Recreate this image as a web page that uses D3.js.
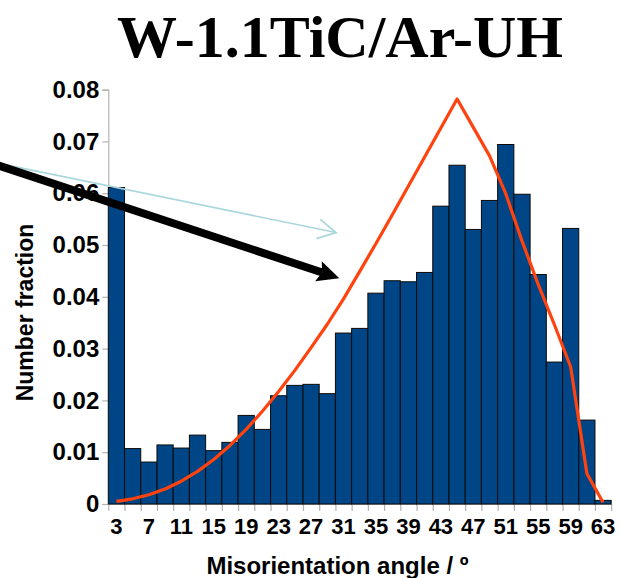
<!DOCTYPE html>
<html>
<head>
<meta charset="utf-8">
<script src="https://cdn.jsdelivr.net/npm/d3@7"></script>
<style>
  html, body { margin: 0; padding: 0; background: #fff; }
  svg { display: block; }
</style>
</head>
<body>
<svg id="chart" width="622" height="578"></svg>
<script>
// Misorientation angle bins (bin centres, degrees)
const angles = [3, 5, 7, 9, 11, 13, 15, 17, 19, 21, 23, 25, 27, 29, 31, 33,
                35, 37, 39, 41, 43, 45, 47, 49, 51, 53, 55, 57, 59, 61, 63];

// Measured number fraction per bin
const measured = [0.0611, 0.0107, 0.0081, 0.0114, 0.0108, 0.0133, 0.0103, 0.0119,
                  0.0171, 0.0144, 0.0209, 0.0229, 0.0231, 0.0213, 0.0330, 0.0339,
                  0.0407, 0.0431, 0.0429, 0.0447, 0.0575, 0.0654, 0.0530, 0.0586,
                  0.0694, 0.0598, 0.0443, 0.0274, 0.0532, 0.0162, 0.0007];

// Random-texture (Mackenzie) reference distribution per bin
const randomRef = [0.0005, 0.0010, 0.0018, 0.0029, 0.0044, 0.0063, 0.0086, 0.0113,
                   0.0144, 0.0179, 0.0217, 0.0258, 0.0302, 0.0347, 0.0396, 0.0449,
                   0.0503, 0.0558, 0.0614, 0.0670, 0.0726, 0.0782, 0.0727, 0.0672,
                   0.0599, 0.0508, 0.0424, 0.0346, 0.0265, 0.0059, 0.0003];

const xTickLabels = [3, 7, 11, 15, 19, 23, 27, 31, 35, 39, 43, 47, 51, 55, 59, 63];
const yTicks = [0, 0.01, 0.02, 0.03, 0.04, 0.05, 0.06, 0.07, 0.08];

const titleText = "W-1.1TiC/Ar-UH";
const xTitle = "Misorientation angle / º";
const yTitle = "Number fraction";

// Annotation arrows, in data coordinates (angle, fraction)
const cyanArrow = { from: [-12.6, 0.0661], to: [30.07, 0.0524] };
const blackArrow = { from: [-12.6, 0.0659], to: [30.48, 0.0436] };

const svg = d3.select("#chart");
const plot = { left: 108.3, right: 611.2, top: 89.6, bottom: 504 };

const x = d3.scaleBand().domain(angles).range([plot.left, plot.right]).padding(0);
const xEdge = d3.scaleLinear().domain([2, 64]).range([plot.left, plot.right]);
const y = d3.scaleLinear().domain([0, 0.08]).range([plot.bottom, plot.top]);

const axisGrey = "#b3b3b3";
const sans = "'Liberation Sans', Arial, sans-serif";

// Title
svg.append("text")
  .attr("x", 340).attr("y", 57)
  .attr("text-anchor", "middle")
  .style("font-family", "'Liberation Serif', 'Times New Roman', serif")
  .style("font-weight", "bold")
  .style("font-size", "60px")
  .text(titleText);

// Y axis
const yAxis = svg.append("g")
  .attr("transform", `translate(${plot.left},0)`)
  .call(d3.axisLeft(y).tickValues(yTicks).tickSize(6).tickPadding(3)
    .tickFormat(d => d === 0 ? "0" : d3.format(".2f")(d)));
yAxis.select(".domain").attr("stroke", axisGrey).attr("stroke-width", 1.2);
yAxis.selectAll(".tick line").attr("stroke", axisGrey).attr("stroke-width", 1.2);
yAxis.selectAll(".tick text")
  .attr("fill", "#000")
  .style("font-family", sans).style("font-weight", "bold").style("font-size", "24px");

// X axis: tick marks on bin edges
const xEdges = d3.range(2, 65, 2);
const xAxisTicks = svg.append("g")
  .attr("transform", `translate(0,${plot.bottom})`)
  .call(d3.axisBottom(xEdge).tickValues(xEdges).tickSize(7).tickSizeOuter(0).tickFormat(""));
xAxisTicks.select(".domain").attr("stroke", axisGrey).attr("stroke-width", 1.2);
xAxisTicks.selectAll(".tick line").attr("stroke", axisGrey).attr("stroke-width", 1.2);

// X axis: labels on bin centres
const xAxisLabels = svg.append("g")
  .attr("transform", `translate(0,${plot.bottom})`)
  .call(d3.axisBottom(x).tickValues(xTickLabels).tickSize(0).tickPadding(14));
xAxisLabels.select(".domain").remove();
xAxisLabels.selectAll(".tick text")
  .attr("fill", "#000")
  .style("font-family", sans).style("font-weight", "bold").style("font-size", "22px");

// Axis titles
svg.append("text")
  .attr("x", 337.5).attr("y", 574)
  .attr("text-anchor", "middle")
  .style("font-family", sans).style("font-weight", "bold").style("font-size", "24px")
  .text(xTitle);

svg.append("text")
  .attr("transform", "translate(33,312.5) rotate(-90)")
  .attr("text-anchor", "middle")
  .style("font-family", sans).style("font-weight", "bold").style("font-size", "23px")
  .text(yTitle);

// Bars
const rows = angles.map((a, i) => ({ a, v: measured[i], r: randomRef[i] }));
svg.append("g").selectAll("rect")
  .data(rows)
  .join("rect")
  .attr("x", d => x(d.a))
  .attr("width", x.bandwidth())
  .attr("y", d => y(d.v))
  .attr("height", d => y(0) - y(d.v))
  .attr("fill", "#004586")
  .attr("stroke", "#0a0a0a")
  .attr("stroke-width", 1);

// Random distribution curve
const line = d3.line()
  .x(d => x(d.a) + x.bandwidth() / 2)
  .y(d => y(d.r));
svg.append("path")
  .datum(rows)
  .attr("d", line)
  .attr("fill", "none")
  .attr("stroke", "#ff420e")
  .attr("stroke-width", 3.2)
  .attr("stroke-linejoin", "round");

// Arrows
function arrowGeom(arrow) {
  const p0 = [xEdge(arrow.from[0]), y(arrow.from[1])];
  const p1 = [xEdge(arrow.to[0]), y(arrow.to[1])];
  const dx = p1[0] - p0[0], dy = p1[1] - p0[1];
  const len = Math.hypot(dx, dy);
  const u = [dx / len, dy / len];
  const n = [-u[1], u[0]];
  return { p0, p1, u, n };
}

// thin light-blue arrow with open head
{
  const g = arrowGeom(cyanArrow);
  const L = 18, W = 9.8;
  const col = "#a9d7dc";
  svg.append("line")
    .attr("x1", g.p0[0]).attr("y1", g.p0[1])
    .attr("x2", g.p1[0]).attr("y2", g.p1[1])
    .attr("stroke", col).attr("stroke-width", 1.6);
  const a1 = [g.p1[0] - L * g.u[0] + W * g.n[0], g.p1[1] - L * g.u[1] + W * g.n[1]];
  const a2 = [g.p1[0] - L * g.u[0] - W * g.n[0], g.p1[1] - L * g.u[1] - W * g.n[1]];
  svg.append("path")
    .attr("d", `M${a1}L${g.p1}L${a2}`)
    .attr("fill", "none").attr("stroke", col).attr("stroke-width", 1.8)
    .attr("stroke-linejoin", "miter");
}

// thick black arrow with filled head
{
  const g = arrowGeom(blackArrow);
  const L = 22, W = 10.6, notch = 18;
  const back = [g.p1[0] - notch * g.u[0], g.p1[1] - notch * g.u[1]];
  svg.append("line")
    .attr("x1", g.p0[0]).attr("y1", g.p0[1])
    .attr("x2", back[0]).attr("y2", back[1])
    .attr("stroke", "#000").attr("stroke-width", 8);
  const a1 = [g.p1[0] - L * g.u[0] + W * g.n[0], g.p1[1] - L * g.u[1] + W * g.n[1]];
  const a2 = [g.p1[0] - L * g.u[0] - W * g.n[0], g.p1[1] - L * g.u[1] - W * g.n[1]];
  svg.append("path")
    .attr("d", `M${g.p1}L${a1}L${back}L${a2}Z`)
    .attr("fill", "#000");
}
</script>
</body>
</html>
